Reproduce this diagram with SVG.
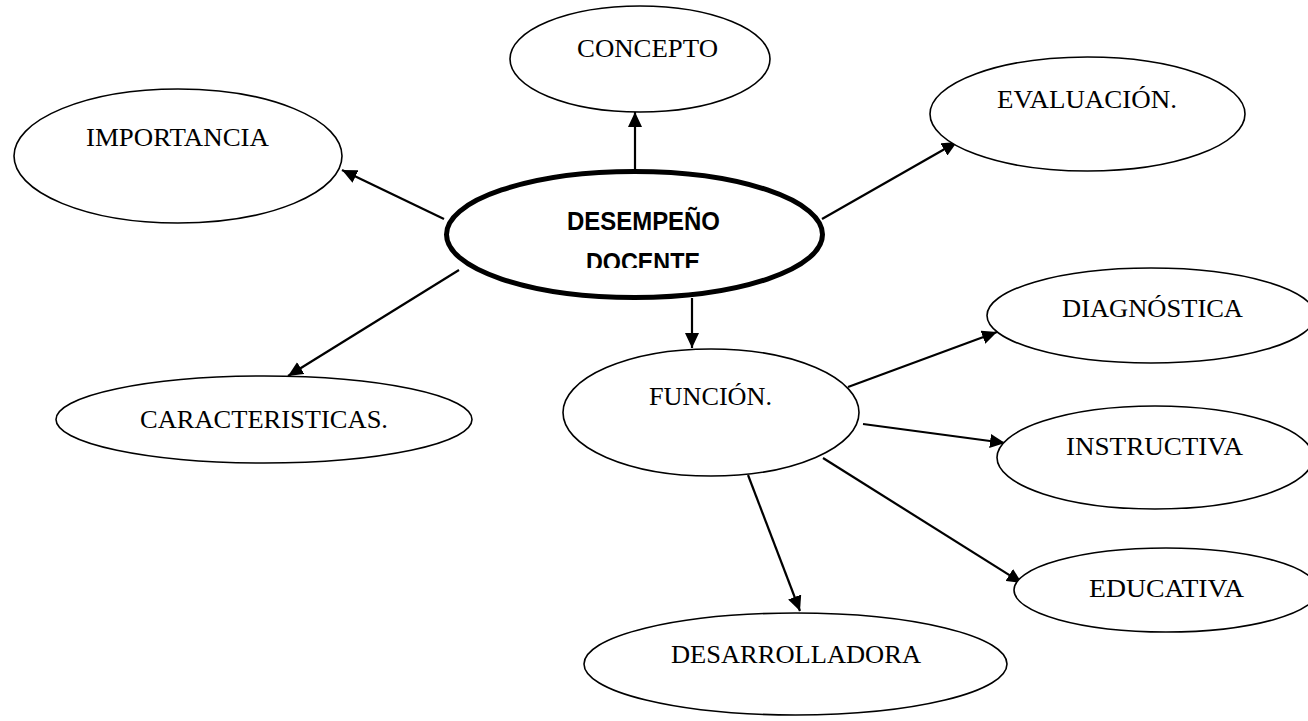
<svg xmlns="http://www.w3.org/2000/svg" width="1308" height="721" viewBox="0 0 1308 721">
<style>
.node{fill:#fff;stroke:#000;stroke-width:1.6}
.main{fill:#fff;stroke:#000;stroke-width:5}
.lbl{font-family:"Liberation Serif","Times New Roman",serif;font-size:25px;fill:#000}
.mlbl{font-family:"Liberation Sans",Arial,sans-serif;font-weight:bold;font-size:25px;fill:#000}
.conn line{stroke:#000;stroke-width:2.2}
</style>
<defs>
<marker id="ah" markerUnits="userSpaceOnUse" markerWidth="16" markerHeight="14" refX="15" refY="7" orient="auto">
<path d="M0,0 L15,7 L0,14 z" fill="#000"/>
</marker>
<clipPath id="clipDoc"><rect x="440" y="160" width="400" height="108"/></clipPath>
</defs>
<rect width="1308" height="721" fill="#fff"/>
<g class="conn">
<line x1="635" y1="172" x2="635" y2="112" marker-end="url(#ah)"/>
<line x1="444" y1="219" x2="342" y2="170" marker-end="url(#ah)"/>
<line x1="459" y1="270" x2="288" y2="376" marker-end="url(#ah)"/>
<line x1="822" y1="219" x2="957" y2="142" marker-end="url(#ah)"/>
<line x1="692" y1="298" x2="692" y2="348" marker-end="url(#ah)"/>
<line x1="848" y1="387" x2="997" y2="332" marker-end="url(#ah)"/>
<line x1="863" y1="424" x2="1005" y2="443" marker-end="url(#ah)"/>
<line x1="823" y1="458" x2="1022" y2="583" marker-end="url(#ah)"/>
<line x1="748" y1="475" x2="800" y2="611" marker-end="url(#ah)"/>
</g>
<g id="concepto">
<ellipse class="node" cx="640" cy="59" rx="130" ry="53"/>
<text class="lbl" x="577" y="57" textLength="141" lengthAdjust="spacingAndGlyphs">CONCEPTO</text>
</g>
<g id="importancia">
<ellipse class="node" cx="178" cy="156" rx="164" ry="67"/>
<text class="lbl" x="86" y="146" textLength="183" lengthAdjust="spacingAndGlyphs">IMPORTANCIA</text>
</g>
<g id="evaluacion">
<ellipse class="node" cx="1087.5" cy="114" rx="157.5" ry="57"/>
<text class="lbl" x="997" y="108" textLength="180" lengthAdjust="spacingAndGlyphs">EVALUACIÓN.</text>
</g>
<g id="caracteristicas">
<ellipse class="node" cx="264" cy="419.5" rx="208" ry="43.5"/>
<text class="lbl" x="140" y="428" textLength="248" lengthAdjust="spacingAndGlyphs">CARACTERISTICAS.</text>
</g>
<g id="desempeno">
<ellipse class="main" cx="634.5" cy="234.5" rx="188" ry="63"/>
<text class="mlbl" x="567" y="230" textLength="153" lengthAdjust="spacingAndGlyphs">DESEMPEÑO</text>
<text class="mlbl" x="586" y="271" textLength="114" lengthAdjust="spacingAndGlyphs" clip-path="url(#clipDoc)">DOCENTE</text>
</g>
<g id="funcion">
<ellipse class="node" cx="711" cy="412.5" rx="148" ry="63.5"/>
<text class="lbl" x="649" y="405" textLength="123" lengthAdjust="spacingAndGlyphs">FUNCIÓN.</text>
</g>
<g id="diagnostica">
<ellipse class="node" cx="1151" cy="315.5" rx="164" ry="47.5"/>
<text class="lbl" x="1062" y="317" textLength="181" lengthAdjust="spacingAndGlyphs">DIAGNÓSTICA</text>
</g>
<g id="instructiva">
<ellipse class="node" cx="1155" cy="457.5" rx="158" ry="51.5"/>
<text class="lbl" x="1066" y="455" textLength="177" lengthAdjust="spacingAndGlyphs">INSTRUCTIVA</text>
</g>
<g id="educativa">
<ellipse class="node" cx="1166" cy="590" rx="152" ry="42"/>
<text class="lbl" x="1089" y="597" textLength="155" lengthAdjust="spacingAndGlyphs">EDUCATIVA</text>
</g>
<g id="desarrolladora">
<ellipse class="node" cx="795.5" cy="664" rx="211.5" ry="51"/>
<text class="lbl" x="671" y="663" textLength="250" lengthAdjust="spacingAndGlyphs">DESARROLLADORA</text>
</g>
</svg>
